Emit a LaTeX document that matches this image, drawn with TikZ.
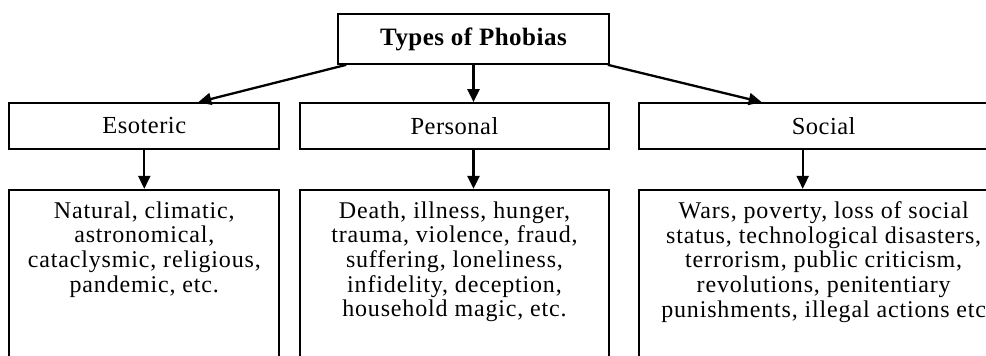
\documentclass[tikz,border=0pt]{standalone}
\usepackage{fontspec}
\setmainfont[LetterSpace=2]{Liberation Serif}
\newfontfamily\listfont[LetterSpace=3.5]{Liberation Serif}
\usetikzlibrary{arrows.meta,positioning}

\begin{document}
\begin{tikzpicture}[
        x=1pt, y=1pt,
        node distance=19pt,
        box/.style={rectangle, draw, line width=1.7pt,
                    minimum height=46pt, align=center,
                    font=\fontsize{24.5}{30}\selectfont},
        listbox/.style={rectangle, draw, line width=1.7pt,
                    anchor=north, inner ysep=12pt, align=center,
                    text depth=220pt,
                    font=\listfont\fontsize{24}{24.6}\selectfont},
        arr/.style={-{Triangle[length=13pt,width=12pt]}, line width=2.3pt}
      ]
      \useasboundingbox (0,0) rectangle (986,-356);

      \node[box, minimum width=271pt, minimum height=50pt, font=\fontsize{25}{30}\selectfont\bfseries]
            (top) at (473.5,-39) {Types of Phobias};

      \node[box, minimum width=309pt] (pers) at (454.5,-126) {Personal};
      \node[box, minimum width=270pt, left=of pers] (eso) {Esoteric};
      \node[box, minimum width=370pt, right=28pt of pers] (soc) {Social};

      \node[listbox, minimum width=270pt, below=39pt of eso] (eso3)
            {Natural, climatic,\\astronomical,\\cataclysmic, religious,\\pandemic, etc.};
      \node[listbox, minimum width=309pt, below=39pt of pers] (pers3)
            {Death, illness, hunger,\\trauma, violence, fraud,\\suffering, loneliness,\\infidelity, deception,\\household magic, etc.};
      \node[listbox, minimum width=370pt, below=39pt of soc] (soc3)
            {Wars, poverty, loss of social\\status, technological disasters,\\terrorism, public criticism,\\revolutions, penitentiary\\punishments, illegal actions etc};

      \draw[arr] ([xshift=9]top.south west) -- ([xshift=54]eso.north);
      \draw[arr] (top.south) -- (top.south |- pers.north);
      \draw[arr] ([xshift=-2]top.south east) -- ([xshift=-62]soc.north);

      \draw[arr] (eso.south) -- (eso3.north);
      \draw[arr] ([xshift=19]pers.south) -- ([xshift=19]pers3.north);
      \draw[arr] ([xshift=-21]soc.south) -- ([xshift=-21]soc3.north);
    \end{tikzpicture}
\end{document}
